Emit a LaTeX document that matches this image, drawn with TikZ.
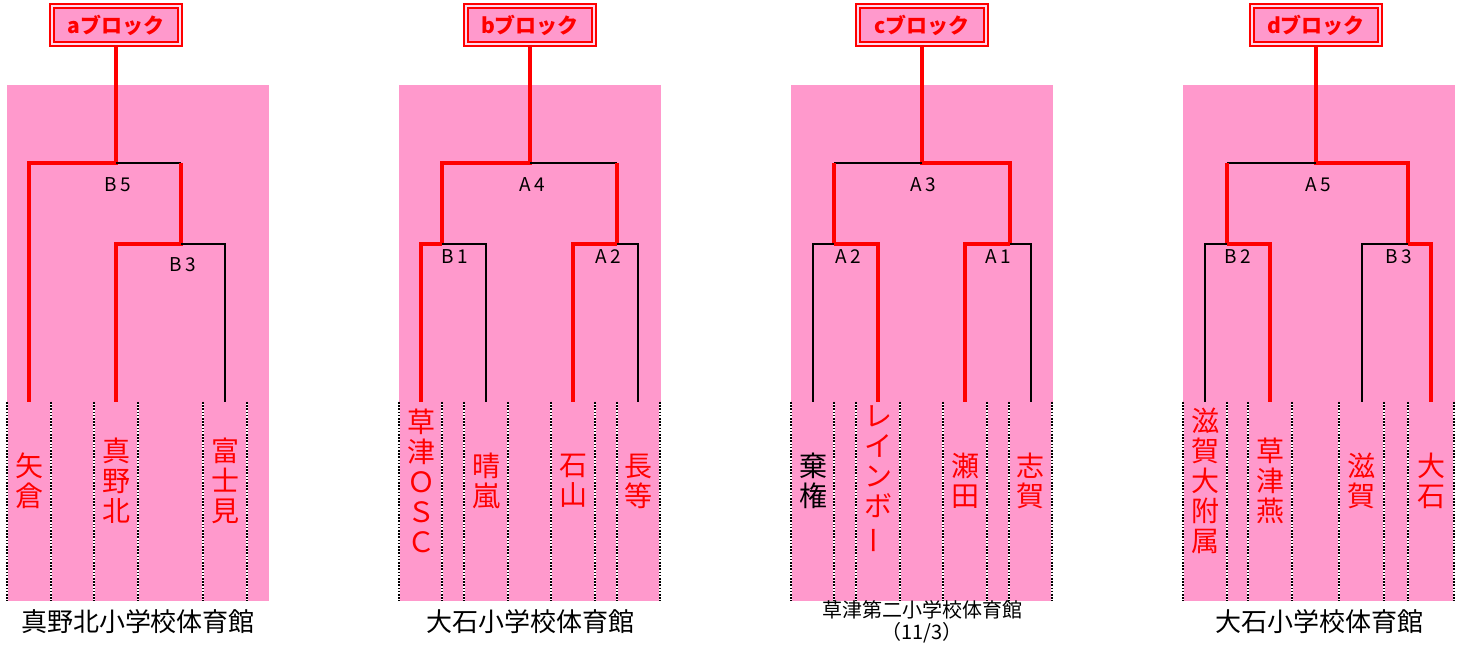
\documentclass[tikz,border=0pt]{standalone}
\usepackage{fontspec}
\setmainfont{Noto Sans CJK JP}
\definecolor{bpink}{HTML}{FF99CC}
\definecolor{bpale}{HTML}{FFD9EC}
\begin{document}
\begin{tikzpicture}[x=0.5pt, y=-0.5pt,
  win/.style={draw=red, line width=2.3pt},
  loss/.style={draw=black, line width=0.9pt},
  colsep/.style={line width=1.1pt, dash pattern=on 0.8pt off 0.8pt, preaction={draw=white, solid, line width=1.1pt}},
  blockhead/.style={draw=red, double=bpale, line width=1pt, double distance=1pt, fill=bpink, minimum width=64pt, minimum height=19pt, inner sep=0pt, text=red, font=\fontsize{10.5}{12}\selectfont\bfseries},
  team/.style={text=red, align=center, inner sep=0pt, font=\fontsize{14}{15}\selectfont},
  match/.style={font=\fontsize{9.5}{11}\selectfont, inner sep=0pt},
  venue/.style={font=\fontsize{13}{15}\selectfont, inner sep=0pt}]
\useasboundingbox (0,0) rectangle (1462,646);

\fill[bpink] (7,85) rectangle (269,601);
\fill[bpink] (399,85) rectangle (661,601);
\fill[bpink] (791,85) rectangle (1053,601);
\fill[bpink] (1183,85) rectangle (1455,601);
\foreach \x in {7,51,94,138,203,247,399,442,464,508,551,595,617,660,791,834,856,900,943,987,1009,1052,1183,1227,1248,1292,1339,1384,1408,1454}
  \draw[colsep] (\x,402) -- (\x,601);

% a
\node[blockhead] (ha) at (116,25) {aブロック};
\coordinate (a-top) at (116,163);
\coordinate (a-B3) at (181,244);
\coordinate (a-1) at (29,402);
\coordinate (a-2) at (116,402);
\coordinate (a-3) at (225,402);
\draw[win] (ha.south) -- (a-top) -| (a-1);
\draw[loss] (a-top) -- (a-top -| a-B3);
\draw[win] (a-top -| a-B3) -- (a-B3) -| (a-2);
\draw[loss] (a-B3) -| (a-3);
\node[match] (a-m5) at (118,185) {B\,5};
\node[match] (a-m3) at (183,265) {B\,3};
\node[team] (a-t1) at (29,481) {矢\\倉};
\node[team] (a-t2) at (116,481) {真\\野\\北};
\node[team] (a-t3) at (225,481) {富\\士\\見};
\node[venue] (a-v) at (138,622) {真野北小学校体育館};

% b
\node[blockhead] (hb) at (530,25) {bブロック};
\coordinate (b-top) at (530,163);
\coordinate (b-B1) at (442,244);
\coordinate (b-A2) at (617,244);
\coordinate (b-1) at (421,402);
\coordinate (b-2) at (486,402);
\coordinate (b-3) at (573,402);
\coordinate (b-4) at (638,402);
\draw[win] (hb.south) -- (b-top) -| (b-B1);
\draw[loss] (b-top) -- (b-top -| b-A2);
\draw[win] (b-top -| b-A2) -- (b-A2);
\draw[win] (b-B1) -| (b-1);
\draw[loss] (b-B1) -| (b-2);
\draw[win] (b-A2) -| (b-3);
\draw[loss] (b-A2) -| (b-4);
\node[match] (b-m4) at (532,185) {A\,4};
\node[match] (b-m1) at (455,257) {B\,1};
\node[match] (b-m2) at (608,257) {A\,2};
\node[team] (b-t1) at (421,481) {草\\津\\Ｏ\\Ｓ\\Ｃ};
\node[team] (b-t2) at (486,481) {晴\\嵐};
\node[team] (b-t3) at (573,481) {石\\山};
\node[team] (b-t4) at (638,481) {長\\等};
\node[venue] (b-v) at (530,622) {大石小学校体育館};

% c
\node[blockhead] (hc) at (922,25) {cブロック};
\coordinate (c-top) at (922,163);
\coordinate (c-A2) at (834,244);
\coordinate (c-A1) at (1010,244);
\coordinate (c-1) at (813,402);
\coordinate (c-2) at (878,402);
\coordinate (c-3) at (965,402);
\coordinate (c-4) at (1031,402);
\draw[win] (hc.south) -- (c-top) -| (c-A1);
\draw[loss] (c-top) -- (c-top -| c-A2);
\draw[win] (c-top -| c-A2) -- (c-A2);
\draw[loss] (c-A2) -| (c-1);
\draw[win] (c-A2) -| (c-2);
\draw[win] (c-A1) -| (c-3);
\draw[loss] (c-A1) -| (c-4);
\node[match] (c-m3) at (923,185) {A\,3};
\node[match] (c-m2) at (848,257) {A\,2};
\node[match] (c-m1) at (998,257) {A\,1};
\node[team, text=black] (c-t1) at (813,481) {棄\\権};
\node[team] (c-t2) at (878,480) {レ\\イ\\ン\\ボ\\\rotatebox[origin=c]{90}{ー}};
\node[team] (c-t3) at (965,481) {瀬\\田};
\node[team] (c-t4) at (1030,481) {志\\賀};
\node[venue, font=\fontsize{10}{12}\selectfont] (c-v) at (922,610) {草津第二小学校体育館};
\node[venue, font=\fontsize{10}{12}\selectfont] (c-d) at (922,633) {（11/3）};

% d
\node[blockhead] (hd) at (1316,25) {dブロック};
\coordinate (d-top) at (1316,163);
\coordinate (d-B2) at (1227,244);
\coordinate (d-B3) at (1408,244);
\coordinate (d-1) at (1205,402);
\coordinate (d-2) at (1270,402);
\coordinate (d-3) at (1362,402);
\coordinate (d-4) at (1431,402);
\draw[win] (hd.south) -- (d-top) -| (d-B3);
\draw[loss] (d-top) -- (d-top -| d-B2);
\draw[win] (d-top -| d-B2) -- (d-B2);
\draw[loss] (d-B2) -| (d-1);
\draw[win] (d-B2) -| (d-2);
\draw[loss] (d-B3) -| (d-3);
\draw[win] (d-B3) -| (d-4);
\node[match] (d-m5) at (1318,185) {A\,5};
\node[match] (d-m2) at (1238,257) {B\,2};
\node[match] (d-m3) at (1399,257) {B\,3};
\node[team] (d-t1) at (1205,481) {滋\\賀\\大\\附\\属};
\node[team] (d-t2) at (1270,481) {草\\津\\燕};
\node[team] (d-t3) at (1361,481) {滋\\賀};
\node[team] (d-t4) at (1431,481) {大\\石};
\node[venue] (d-v) at (1319,622) {大石小学校体育館};
\end{tikzpicture}
\end{document}
